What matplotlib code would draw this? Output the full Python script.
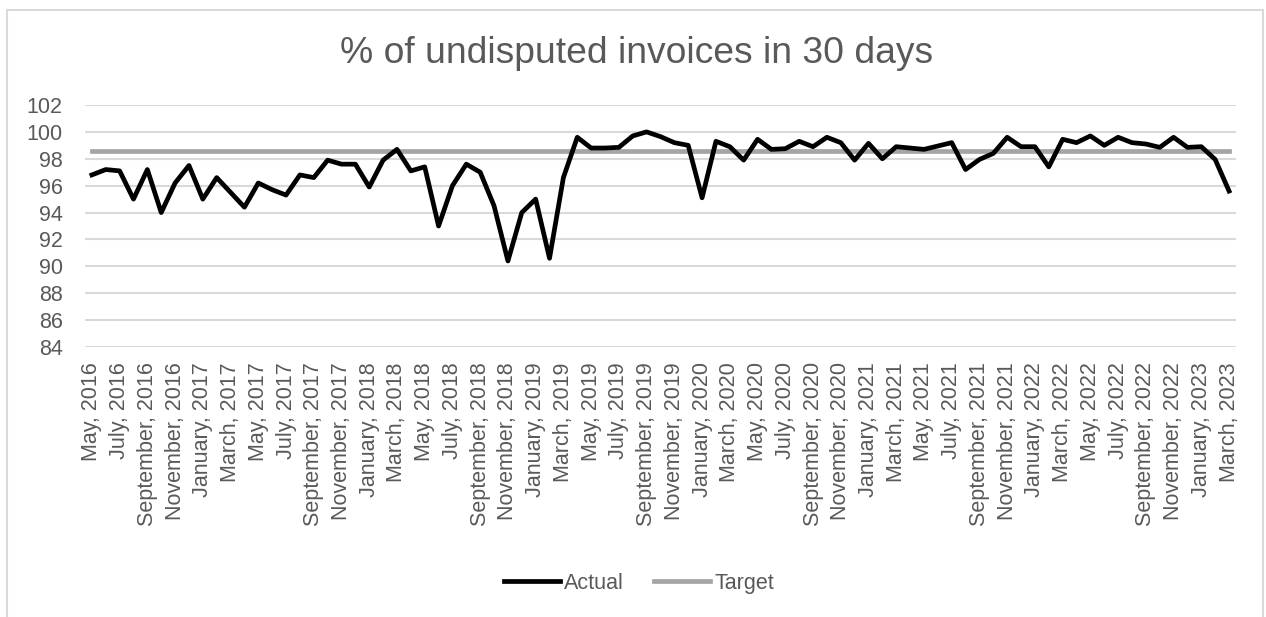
import numpy as np
import matplotlib
matplotlib.use("Agg")
import matplotlib.pyplot as plt
from matplotlib.patches import Rectangle

plt.rcParams['font.family'] = ['Liberation Sans', 'DejaVu Sans']

# monthly data, May 2016 .. March 2023
month_names = ["January", "February", "March", "April", "May", "June", "July",
               "August", "September", "October", "November", "December"]
start_year = 2016
start_month = 5
n_months = 83

actual = [96.8, 97.2, 97.1, 95.0, 97.2, 94.0, 96.2, 97.5, 95.0, 96.6,
          95.5, 94.4, 96.2, 95.7, 95.3, 96.8, 96.6, 97.9, 97.6, 97.6,
          95.9, 97.9, 98.7, 97.1, 97.4, 93.0, 96.0, 97.6, 97.0, 94.5,
          90.4, 94.0, 95.0, 90.6, 96.6, 99.6, 98.8, 98.8, 98.85, 99.7,
          100.0, 99.65, 99.2, 99.0, 95.1, 99.3, 98.9, 97.9, 99.45, 98.7,
          98.75, 99.3, 98.9, 99.6, 99.2, 97.9, 99.15, 98.0, 98.9, 98.8,
          98.7, 98.95, 99.2, 97.2, 97.95, 98.4, 99.6, 98.9, 98.9, 97.4,
          99.45, 99.2, 99.7, 99.0, 99.6, 99.2, 99.1, 98.85, 99.6, 98.85,
          98.9, 97.95, 95.6]
target_value = 98.6
target = [target_value] * n_months

labels = []
for i in range(n_months):
    m = (start_month - 1 + i) % 12
    y = start_year + (start_month - 1 + i) // 12
    labels.append(month_names[m] + ", " + str(y))

yticks = list(range(84, 103, 2))

grey = "#595959"
fig = plt.figure(figsize=(12.66, 6.17), dpi=100)
ax = fig.add_axes([0.0671, 0.4376, 0.9092, 0.3922])

x = np.arange(n_months)
ax.plot(x, actual, color="black", lw=3.4, label="Actual", zorder=3,
        solid_joinstyle="round")
ax.plot(x, target, color="#a5a5a5", lw=3.4, label="Target", zorder=2)

ax.set_xlim(-0.5, n_months - 0.5)
ax.set_ylim(84, 102)
ax.set_yticks(yticks)
ax.set_yticklabels([str(v) for v in yticks])
ax.set_xticks(x[::2])
ax.set_xticklabels(labels[::2], rotation=90, va="top", ha="center")
ax.tick_params(axis="both", length=0, labelsize=15.5, labelcolor=grey)
ax.tick_params(axis="y", pad=16)
ax.tick_params(axis="x", pad=11)
ax.grid(axis="y", color="#d9d9d9", lw=1.5)
ax.set_axisbelow(True)
for s in ax.spines.values():
    s.set_visible(False)

fig.text(0.503, 0.913, "% of undisputed invoices in 30 days", ha="center",
         va="center", fontsize=26.8, color=grey)

fig.legend(loc="center", bbox_to_anchor=(0.505, 0.055), ncol=2, frameon=False,
           fontsize=15.5, labelcolor=grey, handlelength=2.6, handletextpad=0.2,
           columnspacing=1.4)

fig.patches.append(Rectangle((0.0055, -0.1), 0.9921, 1.0838, transform=fig.transFigure,
                             fill=False, edgecolor="#d9d9d9", lw=1.5))

fig.savefig("out.png", dpi=100)
